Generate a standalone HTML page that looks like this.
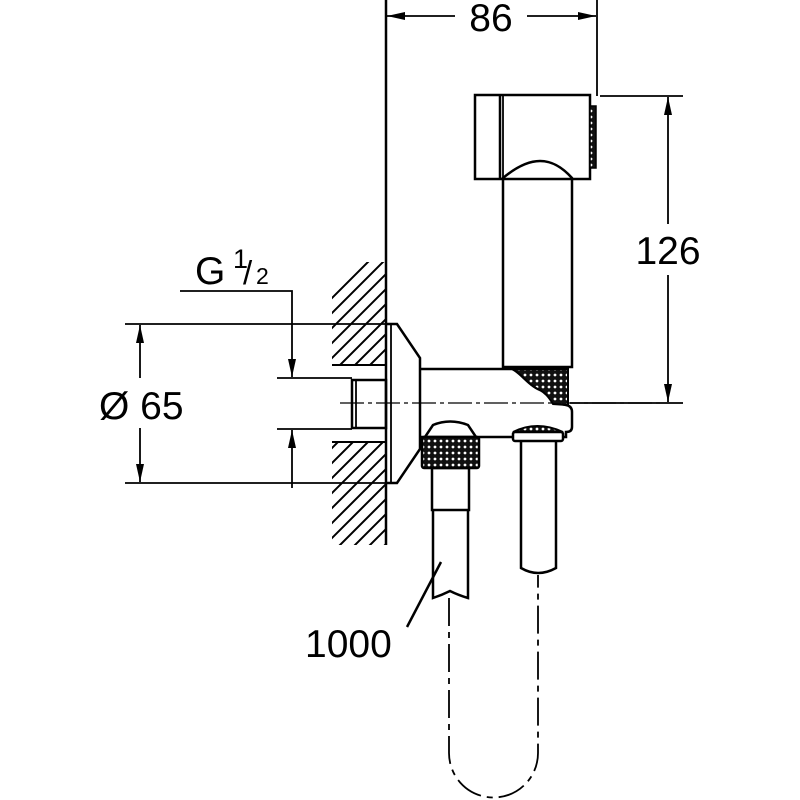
<!DOCTYPE html>
<html><head><meta charset="utf-8"><style>html,body{margin:0;padding:0;background:#fff}svg{display:block}</style></head>
<body>
<svg width="800" height="800" viewBox="0 0 800 800" xmlns="http://www.w3.org/2000/svg" font-family="Liberation Sans, sans-serif">
<defs>
<pattern id="kn" width="6" height="6" patternUnits="userSpaceOnUse"><rect width="6" height="6" fill="#111"/><circle cx="3" cy="3" r="1.4" fill="#fff"/></pattern>
<clipPath id="hc"><rect x="332" y="262" width="54" height="103"/><rect x="332" y="442" width="54" height="103"/></clipPath>
<marker id="a" viewBox="0 0 18 8" refX="18" refY="4" markerWidth="18" markerHeight="8" markerUnits="userSpaceOnUse" orient="auto"><path d="M0,0L18,4L0,8z" fill="#000"/></marker>
</defs>
<g stroke="#000" fill="none" stroke-width="1.8">
<g clip-path="url(#hc)" stroke-width="2">
<path d="M300,330L400,230M300,345L400,245M300,360L400,260M300,375L400,275M300,390L400,290M300,405L400,305M300,420L400,320M300,435L400,335M300,450L400,350M300,465L400,365M300,480L400,380M300,495L400,395M300,510L400,410M300,525L400,425M300,540L400,440M300,555L400,455M300,570L400,470M300,585L400,485M300,600L400,500M300,615L400,515M300,630L400,530M300,645L400,545"/>
</g>
<line x1="332" y1="365" x2="386" y2="365" stroke-width="2"/><line x1="332" y1="442" x2="386" y2="442" stroke-width="2"/>
<line x1="386" y1="0" x2="386" y2="545" stroke-width="2.5"/>
<line x1="597" y1="0" x2="597" y2="96"/>
<line x1="455" y1="16" x2="387" y2="16" marker-end="url(#a)"/>
<line x1="527" y1="16" x2="596" y2="16" marker-end="url(#a)"/>
<line x1="600" y1="96" x2="683" y2="96"/><line x1="570" y1="403" x2="683" y2="403"/>
<line x1="668" y1="224" x2="668" y2="97" marker-end="url(#a)"/>
<line x1="668" y1="275" x2="668" y2="402" marker-end="url(#a)"/>
<line x1="125" y1="324" x2="386" y2="324"/><line x1="125" y1="483" x2="386" y2="483"/>
<line x1="140" y1="378" x2="140" y2="325" marker-end="url(#a)"/>
<line x1="140" y1="428" x2="140" y2="482" marker-end="url(#a)"/>
<polyline points="180,291 292,291 292,300"/>
<line x1="292" y1="300" x2="292" y2="377" marker-end="url(#a)"/>
<line x1="277" y1="378" x2="352" y2="378"/><line x1="277" y1="429" x2="352" y2="429"/>
<line x1="292" y1="488" x2="292" y2="430" marker-end="url(#a)"/>
<rect x="352" y="380" width="34" height="48" stroke-width="2.5"/><line x1="356" y1="380" x2="356" y2="428"/>
<path d="M386,324L397,324L420,358L420,449L397,483L386,483" stroke-width="2.5"/>
<line x1="391" y1="324" x2="391" y2="483"/>
<line x1="340" y1="403" x2="660" y2="403" stroke-dasharray="24,4,4,4" stroke-width="1.2"/>
<path d="M420,369L512,369 C520,372 528,385 540,390 C548,393 550,396 552,402 L566,405 Q572,406 572,412 L572,427 Q572,432 566,432 L566,437 L420,437" stroke-width="2.5"/>
<path d="M512,369L568,369L568,405L553,404C548,396 545,393 540,390C528,385 520,372 512,369z" fill="url(#kn)" stroke-width="2"/>
<path d="M503,367L503,178C515,168 528,161 540,161C553,161 563,168 572,178L572,367z" stroke-width="2.5" fill="#fff"/>
<rect x="475" y="95" width="115" height="84" stroke-width="2.5"/>
<line x1="500" y1="95" x2="500" y2="179" stroke-width="2.5"/><line x1="503" y1="95" x2="503" y2="179"/>
<rect x="590" y="106" width="6" height="62" fill="url(#kn)" stroke-width="1.5"/>
<path d="M425,437L433,425Q450,418 468,425L476,437" stroke-width="2.5"/>
<rect x="422" y="437" width="57" height="31" fill="url(#kn)" stroke-width="2.5" rx="2"/>
<rect x="432" y="468" width="37" height="42" stroke-width="2.5"/>
<path d="M433,510L433,598Q442,595 450,591Q458,595 468,598L468,510" stroke-width="2.5"/>
<path d="M513,432Q537,420 563,432z" fill="url(#kn)" stroke-width="2"/>
<rect x="513" y="432" width="50" height="9" rx="2" stroke-width="2.5" fill="#fff"/>
<path d="M521,441L521,568Q538,578 556,568L556,441" stroke-width="2.5"/>
<path d="M449,598L449,753A44.5,44.5 0 0 0 538,753L538,575" stroke-dasharray="28,6,6,6" stroke-width="1.8"/>
<line x1="407" y1="627" x2="441" y2="562" stroke-width="2.5"/>
</g>
<g font-size="39" fill="#000">
<text x="491" y="31" text-anchor="middle">86</text>
<rect x="640" y="228" width="60" height="44" fill="#fff"/>
<text x="668" y="264" text-anchor="middle">126</text>
<text x="99" y="419">Ø 65</text>
<text x="195" y="284">G</text>
<text x="233" y="268" font-size="27">1</text>
<text x="243" y="284" font-size="33">/</text>
<text x="256" y="284" font-size="23">2</text>
<text x="305" y="657">1000</text>
</g>
</svg>
</body></html>
